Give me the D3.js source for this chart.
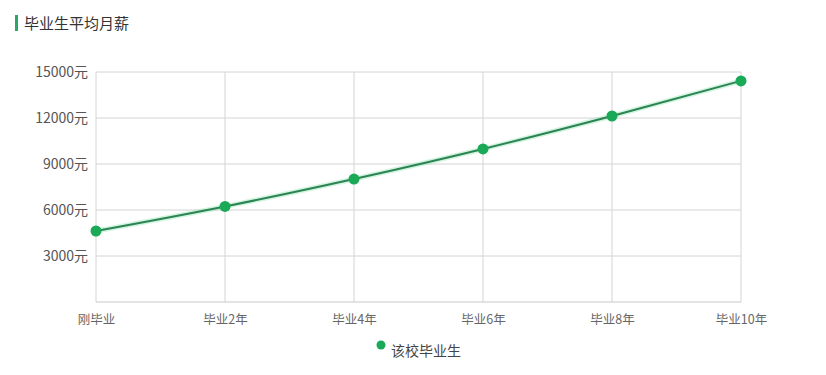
<!DOCTYPE html>
<html>
<head>
<meta charset="utf-8">
<script src="https://cdn.jsdelivr.net/npm/d3@7"></script>
<style>
  body { margin: 0; background: #fff; }
  text { font-family: "Noto Sans CJK SC", "Noto Sans", sans-serif; }
</style>
</head>
<body>
<script>
// chart data
const categories = ["刚毕业", "毕业2年", "毕业4年", "毕业6年", "毕业8年", "毕业10年"]
const salary = [4630, 6230, 8020, 9980, 12130, 14420]
const yTicks = [3000, 6000, 9000, 12000, 15000]
const seriesName = "该校毕业生"
const chartTitle = "毕业生平均月薪"

const width = 826, height = 375
const margin = {top: 72, right: 85, bottom: 73, left: 96}
const innerW = width - margin.left - margin.right
const innerH = height - margin.top - margin.bottom

const svg = d3.select("body").append("svg")
    .attr("width", width)
    .attr("height", height)

// title with green marker
svg.append("rect")
    .attr("x", 15).attr("y", 15)
    .attr("width", 3).attr("height", 16)
    .attr("fill", "#2aa86a")
svg.append("text")
    .text(chartTitle)
    .attr("x", 24).attr("y", 29)
    .attr("fill", "#333")
    .style("font-size", "15px")

const g = svg.append("g")
    .attr("transform", `translate(${margin.left},${margin.top})`)

const x = d3.scalePoint()
    .domain(categories)
    .range([0, innerW])

const y = d3.scaleLinear()
    .domain([0, 15000])
    .range([innerH, 0])

// horizontal grid
g.append("g")
    .selectAll("line")
    .data(yTicks)
    .join("line")
    .attr("x1", 0).attr("x2", innerW)
    .attr("y1", d => y(d)).attr("y2", d => y(d))
    .attr("stroke", "#d4d4d4")

// vertical grid
g.append("g")
    .selectAll("line")
    .data(categories)
    .join("line")
    .attr("x1", d => x(d)).attr("x2", d => x(d))
    .attr("y1", 0).attr("y2", innerH)
    .attr("stroke", "#d4d4d4")

// bottom axis line
g.append("line")
    .attr("x1", 0).attr("x2", innerW)
    .attr("y1", innerH).attr("y2", innerH)
    .attr("stroke", "#c8c8c8")

// y labels
const yAxis = g.append("g")
    .call(d3.axisLeft(y).tickValues(yTicks).tickSize(0).tickPadding(8).tickFormat(d => d + "元"))
yAxis.select(".domain").remove()
yAxis.selectAll("text")
    .attr("fill", "#555")
    .style("font-size", "14px")
    .style("font-family", '"Noto Sans CJK SC", sans-serif')

// x labels
const xAxis = g.append("g")
    .attr("transform", `translate(0,${innerH})`)
    .call(d3.axisBottom(x).tickSize(0).tickPadding(13))
xAxis.select(".domain").remove()
xAxis.selectAll("text")
    .attr("fill", "#666")
    .style("font-size", "12.5px")
    .style("font-family", '"Noto Sans CJK SC", sans-serif')

// line
const line = d3.line()
    .x((d, i) => x(categories[i]))
    .y(d => y(d))
    .curve(d3.curveMonotoneX)

g.append("path")
    .attr("d", line(salary))
    .attr("fill", "none")
    .attr("stroke", "#7fe0a8")
    .attr("stroke-opacity", 0.35)
    .attr("stroke-width", 5)
g.append("path")
    .attr("d", line(salary))
    .attr("fill", "none")
    .attr("stroke", "#2b8451")
    .attr("stroke-width", 2)

g.append("g")
    .selectAll("circle")
    .data(salary)
    .join("circle")
    .attr("cx", (d, i) => x(categories[i]))
    .attr("cy", d => y(d))
    .attr("r", 5.5)
    .attr("fill", "#1aa957")

// legend
svg.append("circle")
    .attr("cx", 381).attr("cy", 345)
    .attr("r", 4.5)
    .attr("fill", "#1aa957")
svg.append("text")
    .text(seriesName)
    .attr("x", 391).attr("y", 356)
    .attr("fill", "#444")
    .style("font-size", "14px")
</script>
</body>
</html>
